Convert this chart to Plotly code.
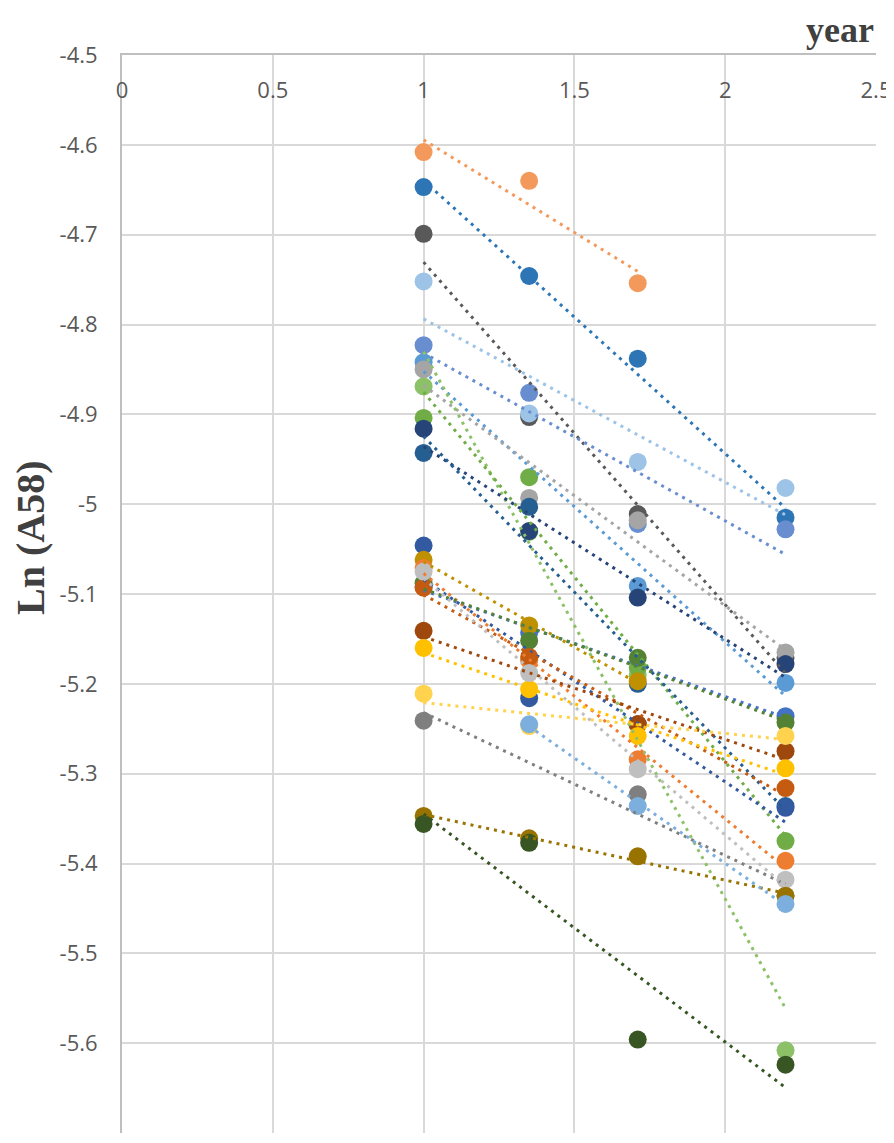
import numpy as np
import plotly.graph_objects as go

# x positions (year) shared by all series
years = [1.0, 1.35, 1.71, 2.2]

# Series values: Ln(A58) at each year (None = not measured)
s01 = [-4.608, -4.640, -4.754, None]
s02 = [-4.647, -4.746, -4.838, -5.015]
s03 = [-4.699, -4.903, -5.011, -5.171]
s04 = [-4.752, -4.899, -4.953, -4.982]
s05 = [-4.823, -4.876, -5.022, -5.028]
s06 = [-4.842, None, -5.091, -5.199]
s07 = [-4.850, -4.993, -5.018, -5.165]
s08 = [-4.869, -5.031, -5.190, -5.608]
s09 = [-4.904, -4.970, -5.182, -5.375]
s10 = [-4.916, -5.030, -5.104, -5.178]
s11 = [-4.943, -5.003, -5.200, -5.336]
s12 = [-5.046, -5.216, -5.245, -5.338]
s13 = [-5.092, -5.143, None, -5.236]
s14 = [-5.062, -5.135, -5.197, None]
s15 = [-5.071, -5.174, -5.284, -5.397]
s16 = [-5.088, -5.152, -5.171, -5.243]
s17 = [-5.093, -5.170, -5.245, -5.316]
s18 = [-5.141, None, -5.245, -5.275]
s19 = [-5.160, -5.206, -5.258, -5.294]
s20 = [-5.211, -5.247, None, -5.258]
s21 = [-5.241, None, -5.323, -5.436]
s22 = [-5.075, -5.188, -5.295, -5.418]
s23 = [-5.347, -5.372, -5.392, -5.436]
s24 = [-5.356, -5.377, -5.596, -5.624]
s25 = [None, -5.245, -5.336, -5.445]

series = [s01, s02, s03, s04, s05, s06, s07, s08, s09, s10, s11, s12, s13,
          s14, s15, s16, s17, s18, s19, s20, s21, s22, s23, s24, s25]
colors = ["#F4995C", "#2E75B6", "#595959", "#9DC3E6", "#698ED0", "#5B9BD5",
          "#A5A5A5", "#8CC168", "#70AD47", "#264478", "#255E91", "#335AA1",
          "#4472C4", "#BF9000", "#ED7D31", "#548235", "#C55A11", "#9E480E",
          "#FFC000", "#FFD34D", "#7F7F7F", "#BFBFBF", "#997300", "#375623",
          "#7CAFDD"]

y_ticks = [-4.5, -4.6, -4.7, -4.8, -4.9, -5.0, -5.1, -5.2, -5.3, -5.4, -5.5, -5.6, -5.7]
y_ticktext = ["-4.5", "-4.6", "-4.7", "-4.8", "-4.9", "-5", "-5.1", "-5.2",
              "-5.3", "-5.4", "-5.5", "-5.6", "-5.7"]
x_ticks = [0, 0.5, 1, 1.5, 2, 2.5]
x_ticktext = ["0", "0.5", "1", "1.5", "2", "2.5"]

fig = go.Figure()

# markers
for vals, col in zip(series, colors):
    fig.add_trace(go.Scatter(
        x=years, y=vals, mode="markers",
        marker=dict(size=18, color=col, line=dict(width=0)),
        showlegend=False, hoverinfo="x+y"))

# linear trendlines (dotted), fitted to each series' points
for vals, col in zip(series, colors):
    xs = np.array([x for x, v in zip(years, vals) if v is not None])
    ys = np.array([v for v in vals if v is not None])
    k, b = np.polyfit(xs, ys, 1)
    xl = np.array([xs.min(), xs.max()])
    fig.add_trace(go.Scatter(
        x=xl, y=k * xl + b, mode="lines",
        line=dict(color=col, width=3, dash="3px,5px"),
        showlegend=False, hoverinfo="skip"))

# empty trace that activates the label axis (x2)
fig.add_trace(go.Scatter(x=[], y=[], xaxis="x2", yaxis="y",
                         showlegend=False, hoverinfo="skip"))

tick_font = dict(family="Open Sans, Liberation Sans, sans-serif", size=22, color="#595959")

fig.update_layout(
    width=884, height=1125,
    margin=dict(l=114, r=16, t=47, b=0, autoexpand=False),
    paper_bgcolor="white", plot_bgcolor="white",
    xaxis=dict(range=[0, 2.5], tickvals=x_ticks, side="top",
               showticklabels=False,
               showgrid=True, gridcolor="#D9D9D9", gridwidth=2,
               showline=True, linecolor="#BFBFBF", linewidth=2,
               zeroline=False, ticks=""),
    xaxis2=dict(range=[0, 2.5], tickvals=x_ticks, ticktext=x_ticktext,
                overlaying="x", anchor="free", position=1.0, side="bottom",
                showgrid=False, showline=False, zeroline=False, ticks="",
                ticklabeloverflow="allow",
                ticklabelstandoff=20, tickfont=tick_font),
    yaxis=dict(range=[-5.7, -4.5], tickvals=y_ticks, ticktext=y_ticktext,
               showgrid=True, gridcolor="#D9D9D9", gridwidth=2,
               showline=True, linecolor="#BFBFBF", linewidth=2,
               zeroline=False, ticks="", ticklabelstandoff=18, tickfont=tick_font),
    annotations=[
        dict(text="<b>Ln (A58)</b>", xref="paper", yref="paper",
             x=-0.1207, y=0.552, xanchor="center", yanchor="middle",
             textangle=-90, showarrow=False,
             font=dict(family="Liberation Serif, Times New Roman, serif", size=40, color="#404040")),
        dict(text="<b>year</b>", xref="paper", yref="paper",
             x=1.0, y=1.0436, xanchor="right", yanchor="top",
             showarrow=False,
             font=dict(family="Liberation Serif, Times New Roman, serif", size=36, color="#404040")),
    ],
)

fig.write_html("out.html")
